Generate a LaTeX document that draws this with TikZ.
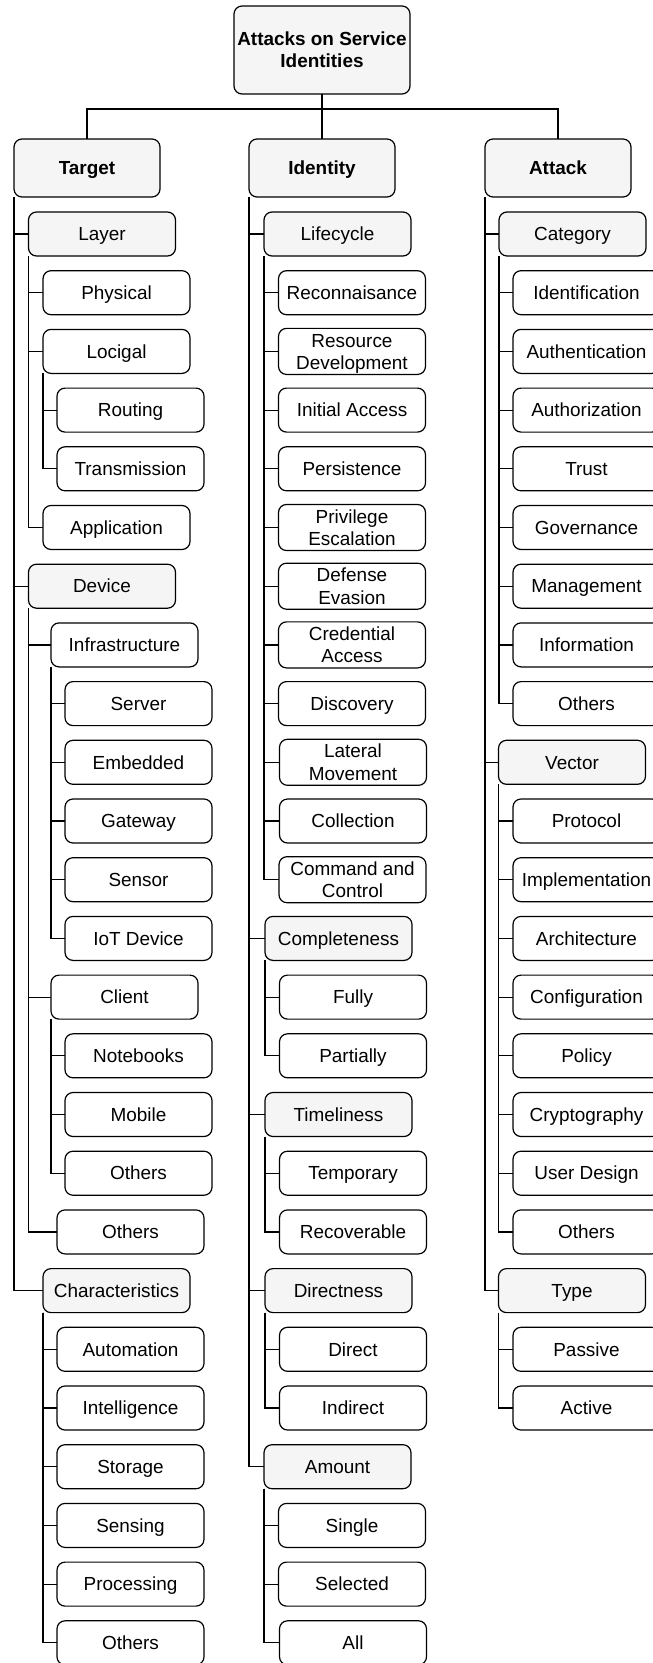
\documentclass[tikz,border=0pt]{standalone}
\usepackage{fontspec}
\setmainfont{Liberation Sans}
\newcommand\dfont{\fontsize{14.2pt}{16.7pt}\selectfont}
\definecolor{boxgray}{HTML}{F5F5F5}
\tikzset{
  base/.style={draw=black, line width=0.9pt, rounded corners=6pt, outer sep=0pt, inner sep=1pt, align=center, font=\dfont, text=black, text height=13pt, text depth=2.84pt},
  two/.style={text height=29.7pt, text depth=2.84pt},
  leaf/.style={base, fill=white, minimum width=110.25pt, minimum height=33pt},
  cat/.style={base, fill=boxgray, minimum width=110.25pt, minimum height=33pt},
  head/.style={base, fill=boxgray, minimum width=109.5pt, minimum height=43.5pt, font=\dfont\bfseries},
  rootbox/.style={base, fill=boxgray, minimum width=132pt, minimum height=66pt, font=\dfont\bfseries},
  link/.style={draw=black, line width=0.9pt}
}
\begin{document}
\begin{tikzpicture}[x=0.75pt, y=-0.75pt]
\useasboundingbox (0,0) rectangle (653,1663);
\clip (0,0) rectangle (653,1663);
\fill[white] (0,0) rectangle (653,1663);

% root and heads
\node[rootbox, two] (root) at (322,50) {Attacks on Service\\Identities};
\node[head] (target) at (87,168) {Target};
\node[head] (identity) at (322,168) {Identity};
\node[head] (attack) at (558,168) {Attack};
\coordinate (bus) at (322,109);

% ---------- Target column ----------
\node[cat]  (layer) at (102,234) {Layer};
\node[leaf] (physical) at (116.5,292.7) {Physical};
\node[leaf] (logical) at (116.5,351.4) {Locigal};
\node[leaf] (routing) at (130.5,410.1) {Routing};
\node[leaf] (transmission) at (130.5,468.8) {Transmission};
\node[leaf] (application) at (116.5,527.5) {Application};
\node[cat]  (device) at (102,586.2) {Device};
\node[leaf] (infra) at (124.5,644.9) {Infrastructure};
\node[leaf] (server) at (138.5,703.6) {Server};
\node[leaf] (embedded) at (138.5,762.3) {Embedded};
\node[leaf] (gateway) at (138.5,821) {Gateway};
\node[leaf] (sensor) at (138.5,879.7) {Sensor};
\node[leaf] (iot) at (138.5,938.4) {IoT Device};
\node[leaf] (client) at (124.5,997.1) {Client};
\node[leaf] (notebooks) at (138.5,1055.8) {Notebooks};
\node[leaf] (mobile) at (138.5,1114.5) {Mobile};
\node[leaf] (clothers) at (138.5,1173.2) {Others};
\node[leaf] (devothers) at (130.5,1231.9) {Others};
\node[cat]  (charac) at (116.5,1290.6) {Characteristics};
\node[leaf] (automation) at (130.5,1349.3) {Automation};
\node[leaf] (intelligence) at (130.5,1408) {Intelligence};
\node[leaf] (storage) at (130.5,1466.7) {Storage};
\node[leaf] (sensing) at (130.5,1525.4) {Sensing};
\node[leaf] (processing) at (130.5,1584.1) {Processing};
\node[leaf] (chothers) at (130.5,1642.8) {Others};

% ---------- Identity column ----------
\node[cat]  (lifecycle) at (337.5,234) {Lifecycle};
\node[leaf] (recon) at (352,292.7) {Reconnaisance};
\node[leaf, two] (resdev) at (352,351.4) {Resource\\Development};
\node[leaf] (initacc) at (352,410.1) {Initial Access};
\node[leaf] (persist) at (352,468.8) {Persistence};
\node[leaf, two] (privesc) at (352,527.5) {Privilege\\Escalation};
\node[leaf, two] (defev) at (352,586.2) {Defense\\Evasion};
\node[leaf, two] (credacc) at (352,644.9) {Credential\\Access};
\node[leaf] (discovery) at (352,703.6) {Discovery};
\node[leaf, two] (latmov) at (353,762.3) {Lateral\\Movement};
\node[leaf] (collection) at (353,821) {Collection};
\node[leaf, two] (cnc) at (352.5,879.7) {Command and\\Control};
\node[cat]  (complete) at (338.5,938.4) {Completeness};
\node[leaf] (fully) at (353,997.1) {Fully};
\node[leaf] (partially) at (353,1055.8) {Partially};
\node[cat]  (timeliness) at (338.5,1114.5) {Timeliness};
\node[leaf] (temporary) at (353,1173.2) {Temporary};
\node[leaf] (recoverable) at (353,1231.9) {Recoverable};
\node[cat]  (directness) at (338.5,1290.6) {Directness};
\node[leaf] (direct) at (353,1349.3) {Direct};
\node[leaf] (indirect) at (353,1408) {Indirect};
\node[cat]  (amount) at (337.5,1466.7) {Amount};
\node[leaf] (single) at (352,1525.4) {Single};
\node[leaf] (selected) at (352,1584.1) {Selected};
\node[leaf] (all) at (353,1642.8) {All};

% ---------- Attack column ----------
\node[cat]  (category) at (572.5,234) {Category};
\node[leaf] (identif) at (586.5,292.7) {Identification};
\node[leaf] (authent) at (586.5,351.4) {Authentication};
\node[leaf] (authoriz) at (586.5,410.1) {Authorization};
\node[leaf] (trust) at (586.5,468.8) {Trust};
\node[leaf] (governance) at (586.5,527.5) {Governance};
\node[leaf] (management) at (586.5,586.2) {Management};
\node[leaf] (information) at (586.5,644.9) {Information};
\node[leaf] (catothers) at (586.5,703.6) {Others};
\node[cat]  (vector) at (572,762.3) {Vector};
\node[leaf] (protocol) at (586.5,821) {Protocol};
\node[leaf] (implement) at (586.5,879.7) {Implementation};
\node[leaf] (architect) at (586.5,938.4) {Architecture};
\node[leaf] (config) at (586.5,997.1) {Configuration};
\node[leaf] (policy) at (586.5,1055.8) {Policy};
\node[leaf] (crypto) at (586.5,1114.5) {Cryptography};
\node[leaf] (userdesign) at (586.5,1173.2) {User Design};
\node[leaf] (vecothers) at (586.5,1231.9) {Others};
\node[cat]  (type) at (572,1290.6) {Type};
\node[leaf] (passive) at (586.5,1349.3) {Passive};
\node[leaf] (active) at (586.5,1408) {Active};

% ---------- connectors ----------
\draw[link] (root.south) -- (identity.north);
\draw[link] (target.north) |- (bus) -| (attack.north);

\foreach \c in {layer,device,charac} \draw[link] (target.south west) |- (\c.west);
\foreach \c in {physical,logical,application} \draw[link] (layer.south west) |- (\c.west);
\foreach \c in {routing,transmission} \draw[link] (logical.south west) |- (\c.west);
\foreach \c in {infra,client,devothers} \draw[link] (device.south west) |- (\c.west);
\foreach \c in {server,embedded,gateway,sensor,iot} \draw[link] (infra.south west) |- (\c.west);
\foreach \c in {notebooks,mobile,clothers} \draw[link] (client.south west) |- (\c.west);
\foreach \c in {automation,intelligence,storage,sensing,processing,chothers} \draw[link] (charac.south west) |- (\c.west);

\foreach \c in {lifecycle,complete,timeliness,directness,amount} \draw[link] (identity.south west) |- (\c.west);
\foreach \c in {recon,resdev,initacc,persist,privesc,defev,credacc,discovery,latmov,collection,cnc} \draw[link] (lifecycle.south west) |- (\c.west);
\foreach \c in {fully,partially} \draw[link] (complete.south west) |- (\c.west);
\foreach \c in {temporary,recoverable} \draw[link] (timeliness.south west) |- (\c.west);
\foreach \c in {direct,indirect} \draw[link] (directness.south west) |- (\c.west);
\foreach \c in {single,selected,all} \draw[link] (amount.south west) |- (\c.west);

\foreach \c in {category,vector,type} \draw[link] (attack.south west) |- (\c.west);
\foreach \c in {identif,authent,authoriz,trust,governance,management,information,catothers} \draw[link] (category.south west) |- (\c.west);
\foreach \c in {protocol,implement,architect,config,policy,crypto,userdesign,vecothers} \draw[link] (vector.south west) |- (\c.west);
\foreach \c in {passive,active} \draw[link] (type.south west) |- (\c.west);
\end{tikzpicture}
\end{document}
